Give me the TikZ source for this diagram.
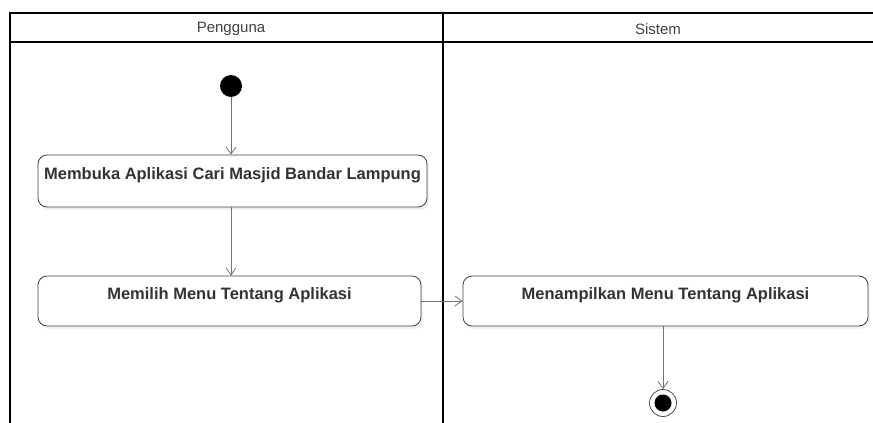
\documentclass[tikz,border=0pt]{standalone}
\usepackage{fontspec}
\setmainfont{Liberation Sans}
\usetikzlibrary{arrows.meta,shadows}
\begin{document}
\begin{tikzpicture}[x=1pt,y=-1pt,
  lane/.style={line width=1.6pt,black},
  action/.style={draw=black!75,line width=0.8pt,rounded corners=9pt,fill=white,
    drop shadow={shadow xshift=2pt,shadow yshift=-3pt,opacity=0.12}},
  label/.style={font=\bfseries\fontsize{16.5}{18}\selectfont,text=black!80},
  flow/.style={draw=black!55,line width=0.8pt,-{Straight Barb[length=7pt,width=10pt]}},
  head/.style={font=\fontsize{15}{17}\selectfont,text=black!75}]
\useasboundingbox (0,0) rectangle (873,423);

% swimlane frame
\draw[lane] (10,423) -- (10,13) -- (873,13);
\draw[lane] (10,42) -- (873,42);
\draw[lane] (443,13) -- (443,423);
\node[head] (hp) at (231,29) {Pengguna};
\node[head] (hs) at (658,29) {Sistem};

% start and end states
\node[circle,fill=black,minimum size=22pt,inner sep=0pt] (start) at (231,86) {};
\node[circle,draw=black!70,line width=0.8pt,minimum size=27pt,inner sep=0pt] (end) at (663,403) {};
\node[circle,fill=black,minimum size=17pt,inner sep=0pt] (endin) at (663,403) {};

% actions
\node[action,minimum width=389pt,minimum height=52pt] (a1) at (232.5,181) {};
\node[label] (t1) at (232.5,175) {Membuka Aplikasi Cari Masjid Bandar Lampung};
\node[action,minimum width=383pt,minimum height=50pt] (a2) at (229.5,301) {};
\node[label] (t2) at (229.5,295) {Memilih Menu Tentang Aplikasi};
\node[action,minimum width=405pt,minimum height=50pt] (a3) at (665.5,301) {};
\node[label] (t3) at (665.5,295) {Menampilkan Menu Tentang Aplikasi};

% transitions
\draw[flow] (start) -- (start|-a1.north);
\draw[flow] (a1.south-|start) -- (a2.north-|start);
\draw[flow] (a2.east) -- (a3.west);
\draw[flow] (a3.south-|end) -- (end.north);
\end{tikzpicture}
\end{document}
